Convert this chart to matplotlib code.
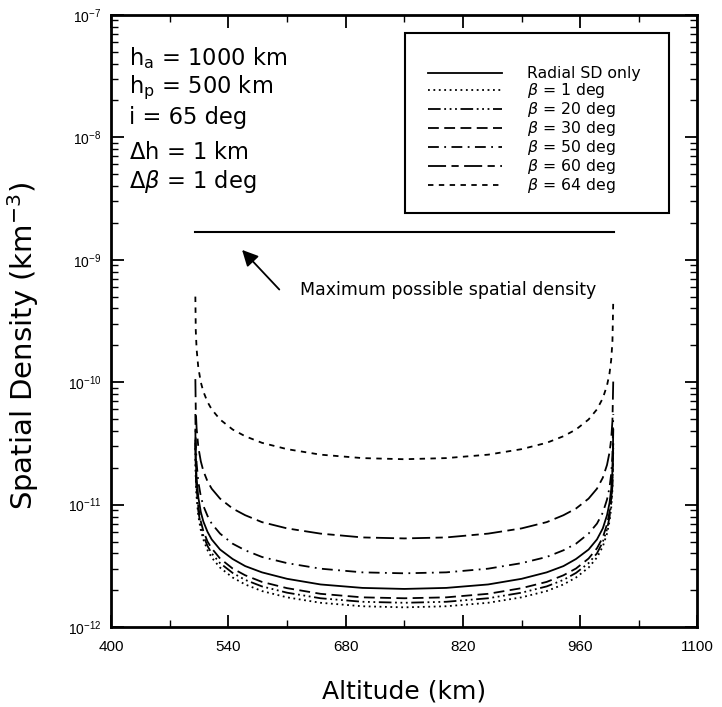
import matplotlib
matplotlib.use("Agg")
import matplotlib.pyplot as plt
import numpy as np
from matplotlib.patches import Rectangle, FancyArrowPatch
from matplotlib.ticker import LogLocator

plt.rcParams['font.family'] = ['DejaVu Sans']
plt.rcParams['mathtext.fontset'] = 'dejavusans'

# altitude grid (km) shared by all curves
altitude = [500.5, 501, 502, 504, 507, 510, 515, 520, 530, 545, 560, 580, 610, 650, 700,
            750, 800, 850, 890, 920, 940, 955, 970, 980, 987, 992, 995, 997, 998.5, 999.5]

# spatial density in units of 1e-12 km^-3
sd_radial = [41, 23, 16.3, 11.5, 8.7, 7.3, 6.0, 5.2, 4.3, 3.6, 3.15, 2.8, 2.48, 2.23, 2.09,
             2.05, 2.09, 2.23, 2.48, 2.8, 3.15, 3.6, 4.3, 5.2, 6.4, 8.2, 10.3, 13.3, 18.8, 41]
sd_b1 = [29, 16.2, 11.5, 8.1, 6.2, 5.2, 4.25, 3.7, 3.06, 2.54, 2.23, 1.97, 1.75, 1.58, 1.48,
         1.45, 1.48, 1.58, 1.75, 1.97, 2.23, 2.54, 3.06, 3.7, 4.55, 5.8, 7.3, 9.4, 13.3, 29]
sd_b20 = [32, 17.7, 12.5, 8.9, 6.7, 5.6, 4.6, 4.0, 3.33, 2.77, 2.43, 2.15, 1.91, 1.72, 1.61,
          1.58, 1.61, 1.72, 1.91, 2.15, 2.43, 2.77, 3.33, 4.0, 4.96, 6.3, 7.9, 10.2, 14.5, 32]
sd_b30 = [34, 19.3, 13.6, 9.6, 7.3, 6.1, 5.0, 4.4, 3.63, 3.01, 2.65, 2.34, 2.08, 1.87, 1.75,
          1.72, 1.75, 1.87, 2.08, 2.34, 2.65, 3.01, 3.63, 4.4, 5.4, 6.9, 8.7, 11.1, 15.7, 34]
sd_b50 = [55, 30.8, 21.8, 15.4, 11.7, 9.8, 8.1, 7.0, 5.8, 4.8, 4.24, 3.74, 3.33, 3.0, 2.8,
          2.75, 2.8, 3.0, 3.33, 3.74, 4.24, 4.8, 5.8, 7.0, 8.6, 11.0, 13.8, 17.8, 25.2, 55]
sd_b60 = [106, 59, 42, 29.7, 22.6, 18.9, 15.5, 13.5, 11.2, 9.3, 8.2, 7.2, 6.4, 5.8, 5.4,
          5.3, 5.4, 5.8, 6.4, 7.2, 8.2, 9.3, 11.2, 13.5, 16.6, 21.1, 26.7, 34.3, 48.5, 106]
sd_b64 = [500, 263, 186, 132, 100, 84, 69, 60, 49.6, 41.1, 36.2, 32, 28.4, 25.6, 24.0,
          23.5, 24.0, 25.6, 28.4, 32, 36.2, 41.1, 49.6, 60, 74, 94, 118, 152, 215, 480]

labels = ['Radial SD only', r'$\beta$ = 1 deg', r'$\beta$ = 20 deg', r'$\beta$ = 30 deg',
          r'$\beta$ = 50 deg', r'$\beta$ = 60 deg', r'$\beta$ = 64 deg']
series = [sd_radial, sd_b1, sd_b20, sd_b30, sd_b50, sd_b60, sd_b64]
styles = ['-', (0, (1, 2)), (0, (7, 2, 1, 2, 1, 2, 1, 2)), (0, (6, 3)),
          (0, (6, 3, 1, 3)), (0, (10, 3, 4, 3)), (0, (3, 3))]

# maximum possible spatial density (flat line over the orbit range)
max_alt = [500, 1000]
max_sd = [1.7e-9, 1.7e-9]

xticks = [400, 540, 680, 820, 960, 1100]
xminor = [470, 610, 750, 890, 1030]

fig = plt.figure(figsize=(7.22, 7.07), dpi=100)
ax = fig.add_axes([0.154, 0.113, 0.812, 0.866])

for vals, lab, ls in zip(series, labels, styles):
    ax.plot(altitude, np.array(vals) * 1e-12, color='black', linestyle=ls,
            linewidth=1.3, label=lab)

ax.plot(max_alt, max_sd, color='black', linewidth=1.5)
ax.add_patch(FancyArrowPatch((603, 5.5e-10), (554, 1.25e-9), arrowstyle='-|>',
                             color='black', lw=1.3, mutation_scale=24))
ax.text(625, 5.7e-10, 'Maximum possible spatial density', fontsize=12.5,
        ha='left', va='center')

ax.set_yscale('log')
ax.set_xlim(400, 1100)
ax.set_ylim(1e-12, 1e-7)
ax.set_xticks(xticks)
ax.set_xticks(xminor, minor=True)
ax.yaxis.set_minor_locator(LogLocator(base=10, subs=np.arange(2, 10)))

ax.tick_params(which='both', direction='in', top=True, right=True)
ax.tick_params(which='major', length=9, width=1.3)
ax.tick_params(which='minor', length=5, width=1.0)
ax.tick_params(axis='x', which='major', pad=9)
ax.tick_params(axis='y', which='major', pad=7)
for lab in ax.get_xticklabels():
    lab.set_family('Liberation Sans')
    lab.set_fontsize(11)
for lab in ax.get_yticklabels():
    lab.set_family('Liberation Sans')
    lab.set_fontsize(10)
for sp in ax.spines.values():
    sp.set_linewidth(2)

ax.set_xlabel('Altitude (km)', fontsize=18)
ax.xaxis.set_label_coords(0.5, -0.085)
ax.set_ylabel('Spatial Density (km$^{-3}$)', fontsize=21)
ax.yaxis.set_label_coords(-0.12, 0.46)

# orbit parameters
params = [r'h$_\mathrm{a}$ = 1000 km', r'h$_\mathrm{p}$ = 500 km', 'i = 65 deg',
          r'$\Delta$h = 1 km', r'$\Delta\beta$ = 1 deg']
ypos = [0.930, 0.881, 0.833, 0.775, 0.727]
for txt, yy in zip(params, ypos):
    ax.text(0.03, yy, txt, transform=ax.transAxes, fontsize=16.3, va='center')

# legend inside its own box
ax.add_patch(Rectangle((0.502, 0.676), 0.449, 0.295, transform=ax.transAxes,
                       fill=False, edgecolor='black', linewidth=1.5, zorder=5))
ax.legend(loc='upper left', bbox_to_anchor=(0.541, 0.916), frameon=False,
          fontsize=11.3, handlelength=4.7, handletextpad=1.6, labelspacing=0.0,
          borderaxespad=0, borderpad=0)

fig.savefig('out.png', dpi=100)
